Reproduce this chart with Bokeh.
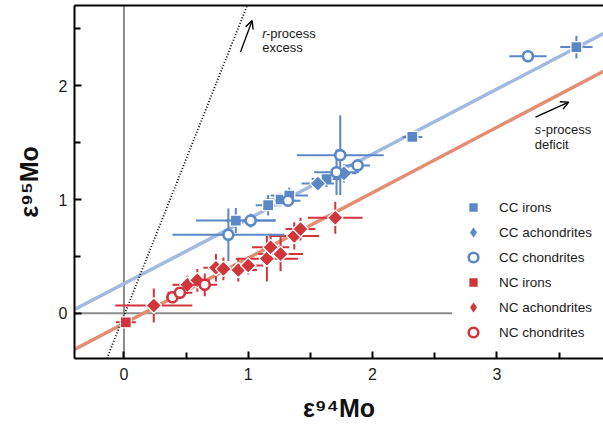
from bokeh.plotting import figure
from bokeh.models import (FixedTicker, Label, Arrow, OpenHead, Legend, LegendItem,
                          ColumnDataSource, Range1d, LinearAxis)
from bokeh.embed import file_html
from bokeh.resources import INLINE
import math

# ---------------- data ----------------
cc_irons_x = [0.90, 1.16, 1.26, 1.33, 1.63, 2.32, 3.64]
cc_irons_y = [0.815, 0.95, 1.00, 1.035, 1.18, 1.55, 2.34]
cc_irons_xerr = [0.32, 0.10, 0.12, 0.15, 0.12, 0.08, 0.13]
cc_irons_yerr = [0.11, 0.09, 0.06, 0.07, 0.07, 0.04, 0.10]

cc_achon_x = [1.56, 1.77]
cc_achon_y = [1.14, 1.23]
cc_achon_xerr = [0.13, 0.10]
cc_achon_yerr = [0.05, 0.08]

cc_chon_x = [0.84, 1.02, 1.32, 1.71, 1.74, 1.88, 3.25]
cc_chon_y = [0.69, 0.815, 0.99, 1.24, 1.39, 1.30, 2.26]
cc_chon_xerr = [0.45, 0.20, 0.10, 0.18, 0.35, 0.10, 0.15]
cc_chon_yerr = [0.23, 0.06, 0.04, 0.20, 0.35, 0.04, 0.03]

nc_irons_x = [0.015]
nc_irons_y = [-0.08]
nc_irons_xerr = [0.08]
nc_irons_yerr = [0.04]

nc_achon_x = [0.24, 0.51, 0.59, 0.74, 0.80, 0.92, 1.00, 1.15, 1.18, 1.26, 1.37, 1.42, 1.70]
nc_achon_y = [0.068, 0.25, 0.29, 0.40, 0.39, 0.38, 0.42, 0.48, 0.58, 0.52, 0.68, 0.74, 0.84]
nc_achon_xerr = [0.31, 0.12, 0.10, 0.10, 0.12, 0.15, 0.12, 0.25, 0.15, 0.18, 0.20, 0.12, 0.22]
nc_achon_yerr = [0.15, 0.08, 0.10, 0.12, 0.10, 0.10, 0.08, 0.20, 0.12, 0.15, 0.12, 0.10, 0.14]

nc_chon_x = [0.39, 0.45, 0.65]
nc_chon_y = [0.14, 0.18, 0.25]
nc_chon_xerr = [0.05, 0.10, 0.10]
nc_chon_yerr = [0.04, 0.05, 0.10]

# mixing lines (slope, intercept)
cc_line = (0.57, 0.26)
nc_line = (0.575, -0.09)
r_line = (2.75, -0.02)
zero_hline_end = 2.64

x_ticks = [0, 1, 2, 3]
x_minor = [0.5, 1.5, 2.5, 3.5]
y_ticks = [0, 1, 2]
y_minor = [0.5, 1.5, 2.5]

legend_labels = ["CC irons", "CC achondrites", "CC chondrites",
                 "NC irons", "NC achondrites", "NC chondrites"]

x_title = "ε⁹⁴Mo"
y_title = "ε⁹⁵Mo"

BLUE = "#5b87c7"
RED = "#d1343a"
CC_LINE = "#a2b9e2"
NC_LINE = "#e38e73"
GRAY = "#8c8c8c"
FONT = "Liberation Sans"

X0, X1 = -0.398, 3.858
Y0, Y1 = -0.398, 2.706

p = figure(width=603, height=424, x_range=Range1d(X0, X1), y_range=Range1d(Y0, Y1),
           output_backend="svg", toolbar_location=None,
           min_border_left=74, min_border_right=0, min_border_top=5, min_border_bottom=66)
p.xgrid.visible = False
p.ygrid.visible = False
p.outline_line_color = None
p.background_fill_color = "white"
p.border_fill_color = "white"

xa = p.below[0]
ya = p.left[0]
xa.ticker = FixedTicker(ticks=x_ticks, minor_ticks=x_minor)
ya.ticker = FixedTicker(ticks=y_ticks, minor_ticks=y_minor)
for ax in (xa, ya):
    ax.axis_line_width = 2
    ax.axis_line_color = "black"
    ax.major_tick_in = 7
    ax.major_tick_out = 0
    ax.minor_tick_in = 6
    ax.minor_tick_out = 0
    ax.major_tick_line_width = 2
    ax.minor_tick_line_width = 2
    ax.major_label_text_font = FONT
    ax.major_label_text_font_size = "16px"
    ax.major_label_text_color = "#1a1a1a"
    ax.axis_label_text_font = FONT
    ax.axis_label_text_font_size = "25px"
    ax.axis_label_text_font_style = "bold"
    ax.axis_label_text_color = "#111111"
xa.major_label_standoff = 9
ya.major_label_standoff = 7
xa.axis_label = x_title
ya.axis_label = y_title
xa.axis_label_standoff = 11
ya.axis_label_standoff = 13

top_axis = LinearAxis(ticker=FixedTicker(ticks=[]), major_tick_in=0, major_tick_out=0,
                      minor_tick_in=0, minor_tick_out=0, major_label_text_font_size="0px",
                      major_label_standoff=0, axis_label_standoff=0,
                      axis_line_width=2, axis_line_color="black")
p.add_layout(top_axis, "above")

# reference lines
p.line([X0, zero_hline_end], [0, 0], line_color=GRAY, line_width=2)
p.line([0, 0], [Y0, Y1], line_color=GRAY, line_width=2)

xs_full = [X0, X1]
p.line(xs_full, [cc_line[0] * x + cc_line[1] for x in xs_full], line_color=CC_LINE, line_width=3.5)
p.line(xs_full, [nc_line[0] * x + nc_line[1] for x in xs_full], line_color=NC_LINE, line_width=3.5)
ry = [Y0, Y1]
p.line([(y - r_line[1]) / r_line[0] for y in ry], ry, line_color="black", line_width=1.8, line_dash="1 2")


def group(x, y, xe, ye, color, marker, hollow, size):
    src = ColumnDataSource(dict(
        x=x, y=y,
        xl=[a - b for a, b in zip(x, xe)], xr=[a + b for a, b in zip(x, xe)],
        yl=[a - b for a, b in zip(y, ye)], yh=[a + b for a, b in zip(y, ye)]))
    p.segment("xl", "y", "xr", "y", source=src, line_color=color, line_width=2)
    p.segment("x", "yl", "x", "yh", source=src, line_color=color, line_width=2)
    if hollow:
        r = p.scatter("x", "y", source=src, marker="circle", size=size,
                      fill_color="white", line_color=color, line_width=2.6)
        return r, r
    elif marker == "diamond":
        # legend proxy (legend glyphs are drawn unrotated); hidden under the real marker
        proxy = p.scatter("x", "y", source=src, marker="diamond", size=14,
                          fill_color=color, line_color=color, line_width=0.5)
        r = p.scatter("x", "y", source=src, marker="square", angle=math.pi / 4, size=size,
                      fill_color=color, line_color="white", line_width=1.3)
        return r, proxy
    else:
        r = p.scatter("x", "y", source=src, marker="square", size=size,
                      fill_color=color, line_color="white", line_width=1.3)
        return r, r


r_nc_i = group(nc_irons_x, nc_irons_y, nc_irons_xerr, nc_irons_yerr, RED, "square", False, 11)
r_nc_a = group(nc_achon_x, nc_achon_y, nc_achon_xerr, nc_achon_yerr, RED, "diamond", False, 11)
r_nc_c = group(nc_chon_x, nc_chon_y, nc_chon_xerr, nc_chon_yerr, RED, "circle", True, 10)
r_cc_i = group(cc_irons_x, cc_irons_y, cc_irons_xerr, cc_irons_yerr, BLUE, "square", False, 11)
r_cc_a = group(cc_achon_x, cc_achon_y, cc_achon_xerr, cc_achon_yerr, BLUE, "diamond", False, 11)
r_cc_c = group(cc_chon_x, cc_chon_y, cc_chon_xerr, cc_chon_yerr, BLUE, "circle", True, 10)

legend = Legend(items=[LegendItem(label=l, renderers=[r[1]]) for l, r in zip(
    legend_labels, [r_cc_i, r_cc_a, r_cc_c, r_nc_i, r_nc_a, r_nc_c])],
    location=(385, 14), glyph_width=28, glyph_height=24, label_height=20,
    spacing=1, label_standoff=12, padding=0, margin=0,
    background_fill_alpha=0, border_line_alpha=0,
    label_text_font=FONT, label_text_font_size="13.5px", label_text_color="#1a1a1a")
p.add_layout(legend)

# annotations: r-process / s-process
def lab(x, y, t, size="13px", style="normal"):
    p.add_layout(Label(x=x, y=y, text=t, text_font=FONT, text_font_size=size,
                       text_font_style=style, text_color="#1a1a1a",
                       text_align="left", text_baseline="alphabetic"))

lab(1.112, 2.457, "r", style="italic")
lab(1.142, 2.457, "-process")
lab(1.112, 2.339, "excess")
lab(3.305, 1.616, "s", style="italic")
lab(3.359, 1.616, "-process")
lab(3.305, 1.488, "deficit")

p.add_layout(Arrow(x_start=0.937, y_start=2.296, x_end=1.031, y_end=2.573,
                   line_color="black", line_width=1.4,
                   end=OpenHead(size=8, line_color="black", line_width=1.4)))
p.add_layout(Arrow(x_start=3.311, y_start=1.724, x_end=3.578, y_end=1.856,
                   line_color="black", line_width=1.4,
                   end=OpenHead(size=8, line_color="black", line_width=1.4)))

open("out.html", "w").write(file_html(p, INLINE))
